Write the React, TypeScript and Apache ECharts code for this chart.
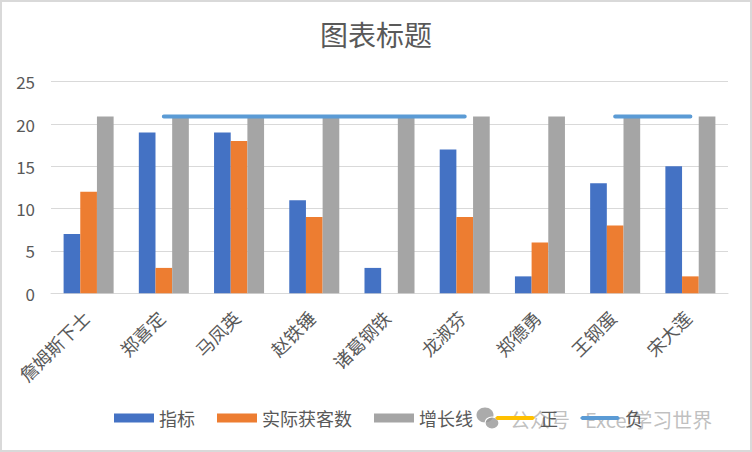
import React, { useEffect, useRef } from "react";
import * as echarts from "echarts";

const categories = ["詹姆斯下士", "郑喜定", "马凤英", "赵铁锤", "诸葛钢铁", "龙淑芬", "郑德勇", "王钢蛋", "宋大莲"];
const indicator = [7, 19, 19, 11, 3, 17, 2, 13, 15];
const actual = [12, 3, 18, 9, 0, 9, 6, 8, 2];
const growth = [20.9, 20.9, 20.9, 20.9, 20.9, 20.9, 20.9, 20.9, 20.9];
const positive: (number | null)[] = [null, null, null, null, null, null, null, null, null];
const negative: (number | null)[] = [null, 20.9, 20.9, 20.9, 20.9, 20.9, null, 20.9, 20.9];
const yTicks = { min: 0, max: 25, interval: 5 };

const FONT = "'Noto Sans CJK SC', 'Noto Sans', sans-serif";
const TXT = "#595959";
const LINE_ICON = "path://M0,0 L0,0 M2,2.5 L38,2.5 L40,4.5 L38,6.5 L2,6.5 L0,4.5 Z M40,9 L40,9";

export default function App() {
  const ref = useRef<HTMLDivElement>(null);
  useEffect(() => {
    if (!ref.current) return;
    const chart = echarts.init(ref.current, undefined, { renderer: "svg" });
    chart.setOption({
      animation: false,
      backgroundColor: "#ffffff",
      textStyle: { fontFamily: FONT },
      title: {
        text: "图表标题",
        left: "center",
        top: 20,
        padding: 0,
        textStyle: { fontSize: 28, fontWeight: "normal", color: TXT, fontFamily: FONT },
      },
      grid: { left: 51, right: 24, top: 81.7, bottom: 158.7, containLabel: false },
      legend: {
        left: 114,
        top: 409,
        padding: 0,
        itemWidth: 40,
        itemHeight: 9,
        itemGap: 22,
        textStyle: { fontSize: 18, color: TXT, fontFamily: FONT },
        data: [
          { name: "指标", icon: "rect" },
          { name: "实际获客数", icon: "rect" },
          { name: "增长线", icon: "rect" },
          { name: "正", icon: LINE_ICON },
          { name: "负", icon: LINE_ICON },
        ],
      },
      xAxis: {
        type: "category",
        data: categories,
        axisLine: { lineStyle: { color: "#D9D9D9", width: 1 } },
        axisTick: { show: false },
        axisLabel: {
          rotate: 45,
          fontSize: 18,
          color: TXT,
          margin: 18,
          padding: [0, 4, 0, 0],
          interval: 0,
          fontFamily: FONT,
        },
      },
      yAxis: {
        type: "value",
        min: yTicks.min,
        max: yTicks.max,
        interval: yTicks.interval,
        axisLine: { show: false },
        axisTick: { show: false },
        splitLine: { lineStyle: { color: "#D9D9D9", width: 1 } },
        axisLabel: { fontSize: 17, color: TXT, margin: 16, fontFamily: FONT },
      },
      series: [
        { name: "指标", type: "bar", data: indicator, itemStyle: { color: "#4472C4" }, barGap: "0%", barCategoryGap: "33.5%" },
        { name: "实际获客数", type: "bar", data: actual, itemStyle: { color: "#ED7D31" } },
        { name: "增长线", type: "bar", data: growth, itemStyle: { color: "#A5A5A5" } },
        {
          name: "正",
          type: "line",
          data: positive,
          symbol: "none",
          lineStyle: { color: "#FFC000", width: 4, cap: "round" },
          itemStyle: { color: "#FFC000" },
        },
        {
          name: "负",
          type: "line",
          data: negative,
          symbol: "none",
          connectNulls: false,
          lineStyle: { color: "#5B9BD5", width: 4, cap: "round" },
          itemStyle: { color: "#5B9BD5" },
          z: 5,
        },
      ],
      graphic: [
        {
          type: "rect",
          shape: { x: 1, y: 1, width: 750, height: 450 },
          style: { fill: "none", stroke: "#D9D9D9", lineWidth: 2 },
          silent: true,
        },
        {
          type: "group",
          z: 100,
          silent: true,
          children: [
            { type: "ellipse", shape: { cx: 485, cy: 415, rx: 8.5, ry: 7.5 }, style: { fill: "rgba(150,150,150,0.8)" } },
            { type: "ellipse", shape: { cx: 492, cy: 423, rx: 7, ry: 6 }, style: { fill: "rgba(150,150,150,0.8)", stroke: "#ffffff", lineWidth: 1.2 } },
            {
              type: "text",
              x: 510,
              y: 419,
              style: { text: "公众号", fontSize: 20, fill: "rgba(150,150,150,0.6)", fontFamily: FONT, verticalAlign: "middle" },
            },
            {
              type: "text",
              x: 585,
              y: 419,
              style: { text: "Excel学习世界", fontSize: 20, fill: "rgba(150,150,150,0.6)", fontFamily: FONT, verticalAlign: "middle" },
            },
          ],
        },
      ],
    });
    return () => chart.dispose();
  }, []);
  return (
    <div
      ref={ref}
      style={{ position: "fixed", left: 0, top: 0, width: 752, height: 452 }}
    />
  );
}
